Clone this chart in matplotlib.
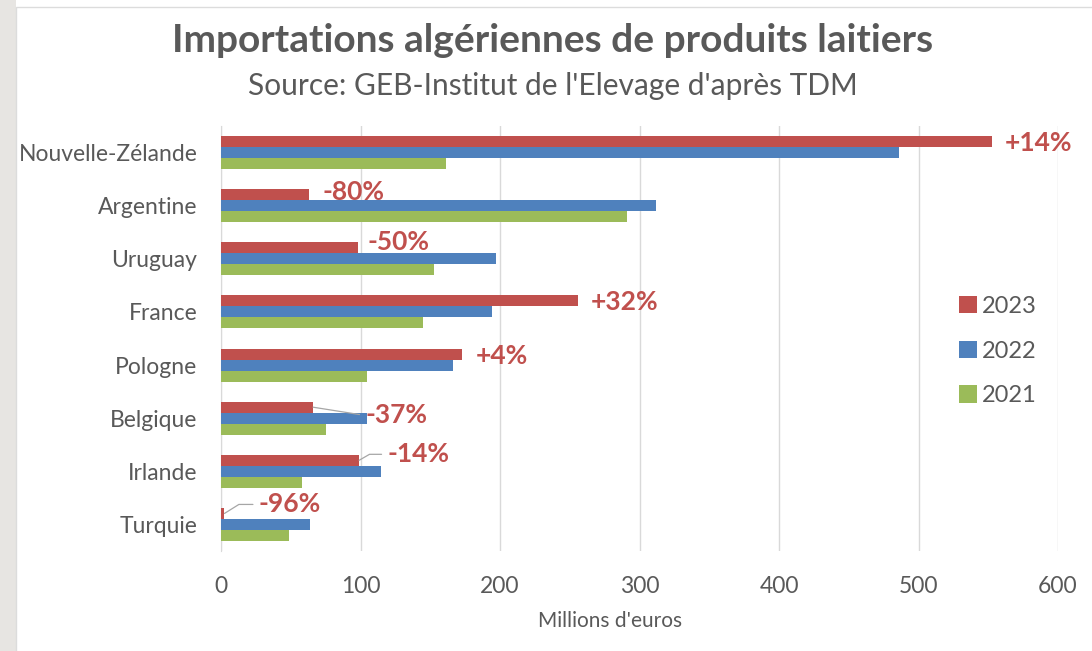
#!/usr/bin/env python3
'Importations algériennes de produits laitiers - barres horizontales'

import matplotlib
matplotlib.use('Agg')
import matplotlib.pyplot as plt
import matplotlib.patches as patches
import numpy as np

# données (millions d'euros)
pays = ['Nouvelle-Zélande', 'Argentine', 'Uruguay', 'France',
        'Pologne', 'Belgique', 'Irlande', 'Turquie']
annees = ['2023', '2022', '2021']
v2023 = [553, 63, 98, 256, 173, 66, 99, 2.5]
v2022 = [486, 312, 197, 194, 166, 105, 115, 64]
v2021 = [161, 291, 153, 145, 105, 75, 58, 49]
variations = ['+14%', '-80%', '-50%', '+32%', '+4%', '-37%', '-14%', '-96%']

couleurs = ['#c0504d', '#4f81bd', '#9bbb59']
gris = '#595959'

# décalage des étiquettes (pixels) et lignes de rappel
decalages = [(12, -1), (14, 3), (10, 6), (13, -1), (13, -2), (52, -8), (28, 6), (34, 9)]
rappel = [None, None, None, None, None, -9, 30, 32]

plt.rcParams['font.family'] = ['Lato', 'DejaVu Sans']


def main():
    fig = plt.figure(figsize=(10.92, 6.51), dpi=100)
    W, H = 1092, 651

    # fond : bande grise à gauche + cadre du graphique
    fig.patches.append(patches.Rectangle((0, 0), 16 / W, 1, transform=fig.transFigure,
                                         facecolor='#e7e5e2', edgecolor='none', zorder=-2))
    fig.patches.append(patches.Rectangle((16 / W, -0.01), 1, 1 - 7 / H + 0.01,
                                         transform=fig.transFigure, facecolor='white',
                                         edgecolor='#dcdcdc', linewidth=1, zorder=-1))

    ax = fig.add_axes([221 / W, 1 - 551 / H, (1058 - 221) / W, 425 / H])
    ax.set_facecolor('none')

    y = np.arange(len(pays))
    h = 0.207
    series = [v2023, v2022, v2021]
    for k, (vals, lab, c) in enumerate(zip(series, annees, couleurs)):
        ax.barh(y + (k - 1) * h, vals, height=h, color=c, label=lab, zorder=3)

    # étiquettes de variation
    for i, txt in enumerate(variations):
        dx, dy = decalages[i]
        props = None
        if rappel[i] is not None:
            props = dict(arrowstyle='-', color='#a6a6a6', lw=0.9, shrinkA=2, shrinkB=0,
                         relpos=(0, 0.5),
                         connectionstyle=f'angle,angleA=0,angleB={rappel[i]},rad=0')
        ax.annotate(txt, xy=(v2023[i], y[i] - h), xytext=(dx, dy),
                    textcoords='offset pixels', ha='left', va='center',
                    fontsize=19, fontweight='bold', color=couleurs[0],
                    arrowprops=props, zorder=4)

    ax.set_xlim(0, 600)
    ax.set_ylim(len(pays) - 0.5, -0.5)
    ax.set_xticks(range(0, 601, 100))
    ax.set_yticks(y)
    ax.set_yticklabels(pays)
    ax.grid(axis='x', color='#d9d9d9', linewidth=1, zorder=0)
    for s in ['top', 'right', 'bottom']:
        ax.spines[s].set_visible(False)
    ax.spines['left'].set_color('#d9d9d9')
    ax.tick_params(axis='both', length=0, colors=gris, labelsize=16.5)
    ax.tick_params(axis='x', pad=18)
    ax.tick_params(axis='y', pad=17)

    # titres
    fig.text(553 / W, 1 - 41 / H, 'Importations algériennes de produits laitiers',
             ha='center', va='center', fontsize=28, fontweight='bold', color=gris)
    fig.text(553 / W, 1 - 86 / H, "Source: GEB-Institut de l'Elevage d'après TDM",
             ha='center', va='center', fontsize=21.5, color=gris)
    fig.text(610 / W, 1 - 621 / H, "Millions d'euros", ha='center', va='center',
             fontsize=15, color=gris)

    # légende
    ax.legend(loc='center left', bbox_to_anchor=(938 / W, 1 - 351 / H),
              bbox_transform=fig.transFigure, frameon=False, fontsize=17,
              handlelength=0.75, handleheight=0.75, handletextpad=0.2,
              labelspacing=1.0, labelcolor=gris)

    fig.savefig('out.png', dpi=100, facecolor='white')
    plt.close(fig)


if __name__ == '__main__':
    main()
